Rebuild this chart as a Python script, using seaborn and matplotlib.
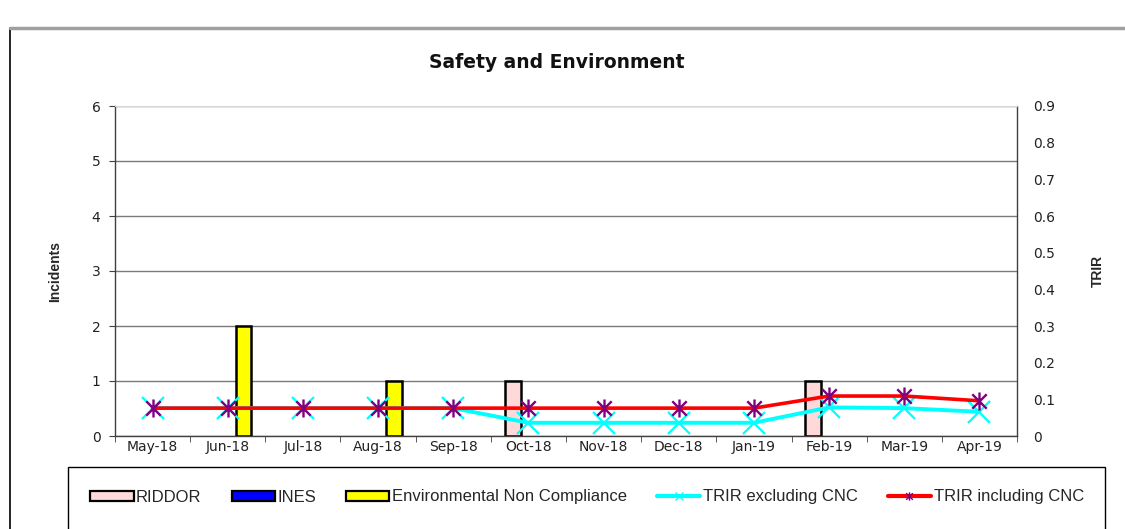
import matplotlib
matplotlib.use("Agg")
import matplotlib.pyplot as plt
from matplotlib.patches import Rectangle, Patch
from matplotlib.lines import Line2D
from matplotlib.path import Path
import seaborn as sns
import pandas as pd
import numpy as np

months = ["May-18", "Jun-18", "Jul-18", "Aug-18", "Sep-18", "Oct-18",
          "Nov-18", "Dec-18", "Jan-19", "Feb-19", "Mar-19", "Apr-19"]
riddor = [0, 0, 0, 0, 0, 1, 0, 0, 0, 1, 0, 0]
ines = [0, 0, 0, 0, 0, 0, 0, 0, 0, 0, 0, 0]
env_nc = [0, 2, 0, 1, 0, 0, 0, 0, 0, 0, 0, 0]
trir_excl = [0.076, 0.076, 0.076, 0.076, 0.076, 0.036, 0.036, 0.036, 0.036, 0.078, 0.076, 0.066]
trir_incl = [0.076, 0.076, 0.076, 0.076, 0.076, 0.076, 0.076, 0.076, 0.076, 0.109, 0.109, 0.096]
trir_ticks = [0, 0.1, 0.2, 0.3, 0.4, 0.5, 0.6, 0.7, 0.8, 0.9]
trir_tick_labels = ["0", "0.1", "0.2", "0.3", "0.4", "0.5", "0.6", "0.7", "0.8", "0.9"]

series_names = ["RIDDOR", "INES", "Environmental Non Compliance"]
bar_colors = {"RIDDOR": "#FFD9D9", "INES": "#0000FF", "Environmental Non Compliance": "#FFFF00"}

sns.set_style("white")
plt.rcParams["font.family"] = ["Liberation Sans", "DejaVu Sans"]

# Excel-like star marker: X plus vertical bar
star = Path([(-0.8, -0.8), (0.8, 0.8), (-0.8, 0.8), (0.8, -0.8), (0, -1), (0, 1)],
            [Path.MOVETO, Path.LINETO, Path.MOVETO, Path.LINETO, Path.MOVETO, Path.LINETO])

bars = pd.DataFrame({
    "month": months * 3,
    "series": sum([[n] * len(months) for n in series_names], []),
    "value": riddor + ines + env_nc,
})

fig = plt.figure(figsize=(11.25, 5.29), dpi=100)
# outer chart frame
fig.add_artist(Line2D([10 / 1125, 10 / 1125], [0, 1 - 28 / 529], color="black", lw=1.2, transform=fig.transFigure))
fig.add_artist(Line2D([10 / 1125, 1.0], [1 - 28 / 529, 1 - 28 / 529], color="#A0A0A0", lw=2.5, transform=fig.transFigure))

ax = fig.add_axes([115 / 1125, 1 - 436 / 529, (1017 - 115) / 1125, (436 - 106) / 529])

sns.barplot(data=bars, x="month", y="value", hue="series", hue_order=series_names,
            palette=bar_colors, order=months, width=0.63, edgecolor="black",
            linewidth=1.8, saturation=1, ax=ax, legend=False)
for p in ax.patches:
    if p.get_height() == 0:
        p.set_visible(False)

ax.set_ylim(0, 6)
ax.set_xlim(-0.5, 11.5)
ax.set_yticks(range(0, 7))
ax.yaxis.grid(True, color="#7A7A7A", lw=1.0)
ax.set_axisbelow(True)
for s in ["left", "bottom", "right"]:
    ax.spines[s].set_color("#404040")
    ax.spines[s].set_linewidth(1.0)
ax.spines["top"].set_color("#D8D8D8")
ax.set_xlabel("")
ax.set_ylabel("Incidents", fontsize=10, fontweight="bold", labelpad=21)
ax.set_xticks(range(len(months)))
ax.set_xticklabels(months, fontsize=10, family="DejaVu Sans", color="#222222")
ax.tick_params(axis="x", length=0, pad=3)
ax.tick_params(axis="y", labelsize=10, length=4.5, direction="out", left=True, pad=6,
               labelcolor="#222222", color="#404040")
for lbl in ax.get_yticklabels():
    lbl.set_family("DejaVu Sans")
ax.set_xticks(np.arange(-0.5, 12, 1), minor=True)
ax.tick_params(axis="x", which="minor", length=4.5, direction="out", bottom=True, color="#404040")

ax2 = ax.twinx()
xs = np.arange(len(months))
sns.lineplot(x=xs, y=trir_excl, ax=ax2, color="#00FFFF", lw=2.8, marker="x",
             markersize=16, markeredgewidth=1.6, markeredgecolor="#00FFFF")
sns.lineplot(x=xs, y=trir_incl, ax=ax2, color="#FF0000", lw=2.6, marker=star,
             markersize=13, markeredgewidth=1.7, markeredgecolor="#800080", markerfacecolor="none")
ax2.set_ylim(0, 0.9)
ax2.set_yticks(trir_ticks)
ax2.set_yticklabels(trir_tick_labels, family="DejaVu Sans")
ax2.tick_params(axis="y", labelsize=10, length=0, pad=11.5, labelcolor="#222222")
ax2.set_ylabel("TRIR", fontsize=10, fontweight="bold", labelpad=26)
ax2.set_xlim(-0.5, 11.5)
for s in ax2.spines.values():
    s.set_visible(False)

ax.set_title("Safety and Environment", fontsize=13.5, fontweight="bold", pad=27,
             family="DejaVu Sans", color="#111111", x=0.49)

legend_handles = [
    Patch(facecolor=bar_colors["RIDDOR"], edgecolor="black", linewidth=1.6, label="RIDDOR"),
    Patch(facecolor=bar_colors["INES"], edgecolor="black", linewidth=1.6, label="INES"),
    Patch(facecolor=bar_colors["Environmental Non Compliance"], edgecolor="black", linewidth=1.6,
          label="Environmental Non Compliance"),
    Line2D([0], [0], color="#00FFFF", lw=3, marker="x", markersize=6, markeredgecolor="#00FFFF",
           label="TRIR excluding CNC"),
    Line2D([0], [0], color="#FF0000", lw=3, marker=star, markersize=6, markeredgecolor="#800080",
           markerfacecolor="none", label="TRIR including CNC"),
]
fig.add_artist(Rectangle((68 / 1125, -0.01), (1105 - 68) / 1125, (529 - 467) / 529 + 0.01,
                         transform=fig.transFigure, fill=False, edgecolor="black", lw=1.0))
fig.legend(handles=legend_handles, loc="center", bbox_to_anchor=(587 / 1125, 1 - 497 / 529),
           ncol=5, frameon=False, handlelength=2.6, handleheight=0.55,
           handletextpad=0.15, columnspacing=1.8,
           prop={"family": ["Liberation Sans", "DejaVu Sans"], "size": 12})

fig.savefig("out.png", dpi=100)
